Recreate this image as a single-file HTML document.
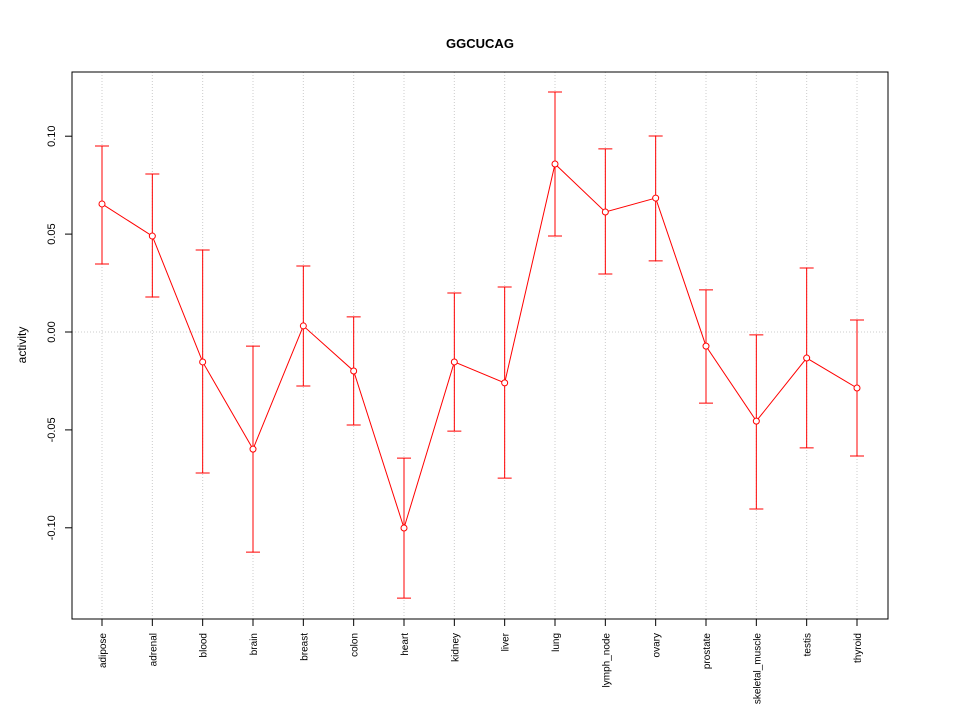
<!DOCTYPE html>
<html><head><meta charset="utf-8"><style>body{margin:0;background:#fff}svg{display:block}text{font-family:"Liberation Sans",sans-serif}</style></head>
<body>
<svg id="chart" width="960" height="720" xmlns="http://www.w3.org/2000/svg">
<text x="480" y="48" text-anchor="middle" font-size="13" font-weight="bold">GGCUCAG</text>
<text transform="translate(26,345) rotate(-90)" text-anchor="middle" font-size="12">activity</text>
<g id="grid"></g><g id="axes"></g><g id="marks"></g>
<rect x="72" y="72" width="816" height="547" fill="none" stroke="#000"/>
</svg>
<script>
const categories=["adipose","adrenal","blood","brain","breast","colon","heart","kidney","liver","lung","lymph_node","ovary","prostate","skeletal_muscle","testis","thyroid"];
const values=[0.0654,0.049,-0.0153,-0.0598,0.0031,-0.0199,-0.1001,-0.0153,-0.026,0.0858,0.0613,0.0684,-0.0072,-0.0455,-0.0133,-0.0286];
const upper=[0.095,0.0807,0.0419,-0.0072,0.0337,0.0077,-0.0644,0.0199,0.023,0.1226,0.0935,0.1001,0.0215,-0.0015,0.0327,0.0061];
const lower=[0.0347,0.0179,-0.072,-0.1124,-0.0276,-0.0475,-0.1359,-0.0506,-0.0746,0.049,0.0296,0.0363,-0.0363,-0.0904,-0.0592,-0.0633];
const yTicks=[-0.10,-0.05,0.00,0.05,0.10];
const yTickLabels=["-0.10","-0.05","0.00","0.05","0.10"];
const NS="http://www.w3.org/2000/svg";
const xs=i=>102+i*(857-102)/(categories.length-1);
const ys=v=>332-v*1958;
function mk(t,a,p){const e=document.createElementNS(NS,t);for(const k in a)e.setAttribute(k,a[k]);p.appendChild(e);return e;}
const grid=document.getElementById('grid'),axes=document.getElementById('axes'),marks=document.getElementById('marks');
categories.forEach((c,i)=>{
 const g=mk('line',{x1:xs(i),x2:xs(i),y1:72,y2:619,stroke:'#ccc','stroke-dasharray':'1,2'},grid);
 
 
 const t=mk('line',{x1:xs(i),x2:xs(i),y1:619,y2:626,stroke:'#000'},axes);
 
 
 const l=mk('text',{transform:`translate(${xs(i)+4},633) rotate(-90)`,'text-anchor':'end','font-size':'10'},axes);
 l.textContent=c;
 
 
});
const z=mk('line',{x1:72,x2:888,y1:ys(0),y2:ys(0),stroke:'#ccc','stroke-dasharray':'1,2'},grid);


yTicks.forEach((v,i)=>{
 const t=mk('line',{x1:65,x2:72,y1:ys(v),y2:ys(v),stroke:'#000'},axes);
 
 
 const l=mk('text',{transform:`translate(55,${ys(v)}) rotate(-90)`,'text-anchor':'middle','font-size':'11'},axes);
 l.textContent=yTickLabels[i];
 
 
});
const pl=mk('polyline',{points:values.map((v,i)=>xs(i)+','+ys(v)).join(' '),fill:'none',stroke:'#f00'},marks);


values.forEach((v,i)=>{
 const x=xs(i);
 const e=mk('path',{d:`M${x},${ys(lower[i])}V${ys(upper[i])}M${x-7},${ys(lower[i])}H${x+7}M${x-7},${ys(upper[i])}H${x+7}`,stroke:'#f00',fill:'none'},marks);
 
 
 const p=mk('circle',{cx:x,cy:ys(v),r:3,fill:'#fff',stroke:'#f00'},marks);
 
 
});
</script>
</body></html>
